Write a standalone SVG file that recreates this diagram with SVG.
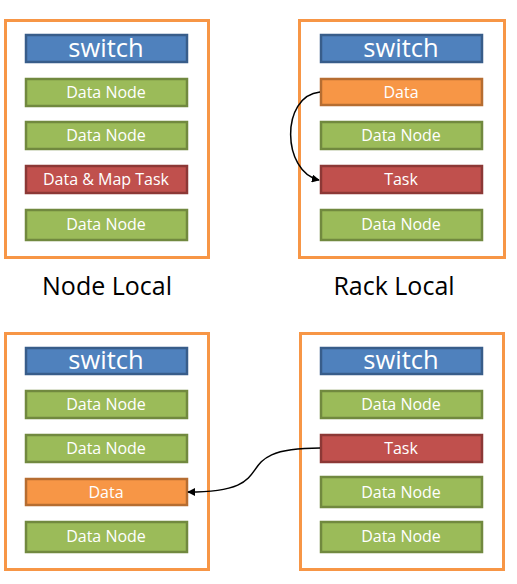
<svg xmlns="http://www.w3.org/2000/svg" width="517" height="584" viewBox="0 0 517 584">
<defs>
<style>
.frame{fill:#fff;stroke:#F79646;stroke-width:3}
.sw{fill:#4F81BD;stroke:#385D8A;stroke-width:2.5}
.dn{fill:#9BBB59;stroke:#71893F;stroke-width:2.5}
.tk{fill:#C0504D;stroke:#8C3836;stroke-width:2.5}
.da{fill:#F79646;stroke:#B66D31;stroke-width:2.5}
.t{font-family:"Open Sans","Liberation Sans",sans-serif;fill:#fff;text-anchor:middle;font-size:16px}
.ts{font-family:"Open Sans","Liberation Sans",sans-serif;fill:#fff;text-anchor:middle;font-size:25.5px}
.lbl{font-family:"Open Sans","Liberation Sans",sans-serif;fill:#000;text-anchor:middle;font-size:25px}
.conn{fill:none;stroke:#000;stroke-width:1.5}
</style>
<marker id="ah" viewBox="0 0 10 10" refX="9" refY="5" markerWidth="8" markerHeight="8" orient="auto" markerUnits="userSpaceOnUse">
<path d="M0,0 L10,5 L0,10 z" fill="#000"/>
</marker>
</defs>
<rect width="517" height="584" fill="#fff"/>

<g id="frame-node-local"><rect class="frame" x="5.5" y="20.5" width="203" height="237"/></g>
<g id="frame-rack-local"><rect class="frame" x="299.5" y="20.5" width="205" height="237"/></g>
<g id="frame-bl"><rect class="frame" x="5.5" y="333.5" width="203" height="236"/></g>
<g id="frame-br"><rect class="frame" x="300.5" y="333.5" width="203" height="236"/></g>

<g id="tl-switch"><rect class="sw" x="26" y="35" width="161" height="27"/><text class="ts" x="106" y="57">switch</text></g>
<g id="tl-dn1"><rect class="dn" x="26" y="79" width="161" height="27"/><text class="t" x="106" y="98">Data Node</text></g>
<g id="tl-dn2"><rect class="dn" x="26" y="122" width="161" height="27"/><text class="t" x="106" y="141">Data Node</text></g>
<g id="tl-dmt"><rect class="tk" x="26" y="166" width="161" height="27"/><text class="t" x="106" y="185">Data &amp; Map Task</text></g>
<g id="tl-dn3"><rect class="dn" x="26" y="210" width="161" height="30"/><text class="t" x="106" y="230">Data Node</text></g>

<g id="tr-switch"><rect class="sw" x="321" y="35" width="161" height="27"/><text class="ts" x="401" y="57">switch</text></g>
<g id="tr-data"><rect class="da" x="321" y="79" width="161" height="26"/><text class="t" x="401" y="98">Data</text></g>
<g id="tr-dn1"><rect class="dn" x="321" y="122" width="161" height="27"/><text class="t" x="401" y="141">Data Node</text></g>
<g id="tr-task"><rect class="tk" x="321" y="166" width="161" height="27"/><text class="t" x="401" y="185">Task</text></g>
<g id="tr-dn2"><rect class="dn" x="321" y="210" width="161" height="30"/><text class="t" x="401" y="230">Data Node</text></g>

<g id="lbl-node-local"><text class="lbl" x="107" y="295">Node Local</text></g>
<g id="lbl-rack-local"><text class="lbl" x="394" y="295">Rack Local</text></g>

<g id="bl-switch"><rect class="sw" x="26" y="348" width="161" height="26"/><text class="ts" x="106" y="369">switch</text></g>
<g id="bl-dn1"><rect class="dn" x="26" y="391" width="161" height="27"/><text class="t" x="106" y="410">Data Node</text></g>
<g id="bl-dn2"><rect class="dn" x="26" y="435" width="161" height="27"/><text class="t" x="106" y="454">Data Node</text></g>
<g id="bl-data"><rect class="da" x="26" y="479" width="161" height="26"/><text class="t" x="106" y="498">Data</text></g>
<g id="bl-dn3"><rect class="dn" x="26" y="522" width="161" height="30"/><text class="t" x="106" y="542">Data Node</text></g>

<g id="br-switch"><rect class="sw" x="321" y="348" width="161" height="26"/><text class="ts" x="401" y="369">switch</text></g>
<g id="br-dn1"><rect class="dn" x="321" y="391" width="161" height="27"/><text class="t" x="401" y="410">Data Node</text></g>
<g id="br-task"><rect class="tk" x="321" y="435" width="161" height="27"/><text class="t" x="401" y="454">Task</text></g>
<g id="br-dn2"><rect class="dn" x="321" y="477" width="161" height="30"/><text class="t" x="401" y="498">Data Node</text></g>
<g id="br-dn3"><rect class="dn" x="321" y="522" width="161" height="30"/><text class="t" x="401" y="542">Data Node</text></g>

<g id="connectors">
<path class="conn" d="M320,92 C280,96 282,172 319,180" marker-end="url(#ah)"/>
<path class="conn" d="M320,448 C220,448 290,492 188,492" marker-end="url(#ah)"/>
</g>
</svg>
